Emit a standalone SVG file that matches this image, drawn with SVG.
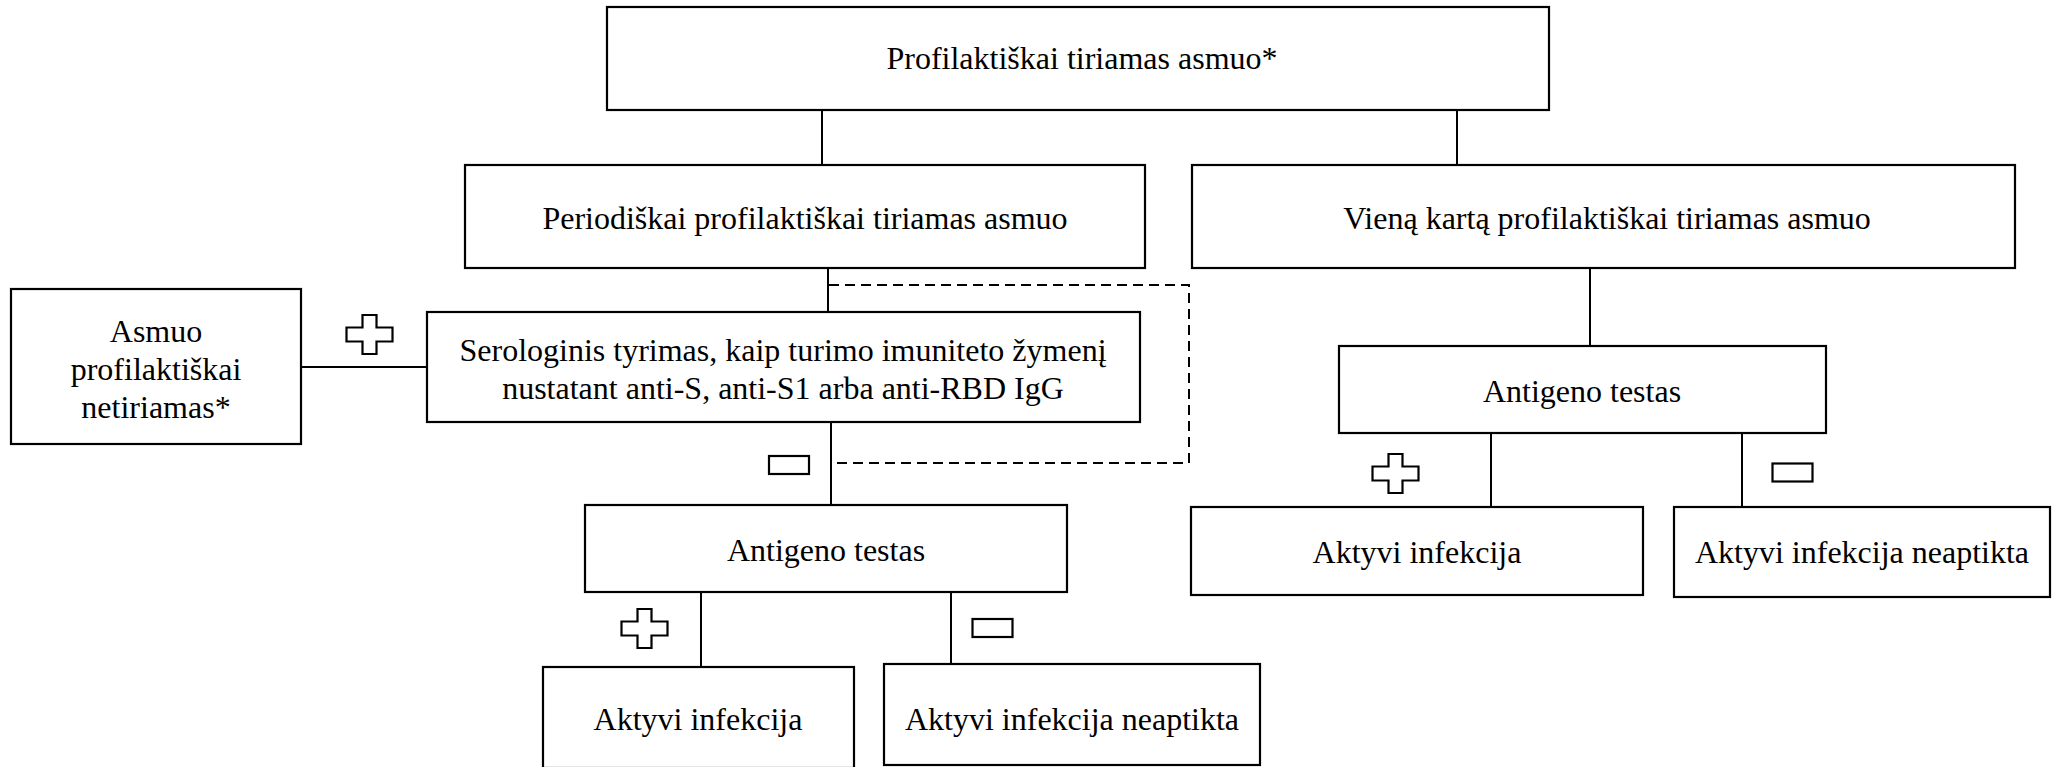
<svg xmlns="http://www.w3.org/2000/svg" width="2055" height="767" viewBox="0 0 2055 767">
<style>
.box{fill:#fff;stroke:#000;stroke-width:2.2}
.ln{stroke:#000;stroke-width:2;fill:none}
.dash{stroke:#000;stroke-width:2;fill:none;stroke-dasharray:10,6}
.sign{fill:#fff;stroke:#000;stroke-width:2.2}
text{font-family:"Liberation Serif","Times New Roman",serif;font-size:32px;fill:#000;text-anchor:middle}
</style>
<defs>
<path id="plus" d="M-7,-19.5 H7 V-7 H23 V7 H7 V19.5 H-7 V7 H-23 V-7 H-7 Z"/>
<rect id="minus" x="-20" y="-9" width="40" height="18"/>
</defs>
<rect width="2055" height="767" fill="#fff"/>
<g id="connectors">
<line class="ln" x1="822" y1="110" x2="822" y2="165"/>
<line class="ln" x1="1457" y1="110" x2="1457" y2="165"/>
<line class="ln" x1="828" y1="268" x2="828" y2="312"/>
<polyline class="dash" points="829,285 1189,285 1189,463 832,463"/>
<line class="ln" x1="831" y1="422" x2="831" y2="505"/>
<line class="ln" x1="301" y1="367" x2="427" y2="367"/>
<line class="ln" x1="701" y1="592" x2="701" y2="667"/>
<line class="ln" x1="951" y1="592" x2="951" y2="664"/>
<line class="ln" x1="1590" y1="268" x2="1590" y2="346"/>
<line class="ln" x1="1491" y1="433" x2="1491" y2="507"/>
<line class="ln" x1="1742" y1="433" x2="1742" y2="507"/>
<use href="#plus" class="sign" x="369.5" y="334.5"/>
<use href="#minus" class="sign" x="789" y="465"/>
<use href="#plus" class="sign" x="644.5" y="628.5"/>
<use href="#minus" class="sign" x="992.5" y="628"/>
<use href="#plus" class="sign" x="1395.5" y="473.5"/>
<use href="#minus" class="sign" x="1792.5" y="472.5"/>
</g>
<g id="top">
<rect class="box" x="607" y="7" width="942" height="103"/>
<text x="1082" y="69">Profilaktiškai tiriamas asmuo*</text>
</g>
<g id="periodic">
<rect class="box" x="465" y="165" width="680" height="103"/>
<text x="805" y="229">Periodiškai profilaktiškai tiriamas asmuo</text>
</g>
<g id="once">
<rect class="box" x="1192" y="165" width="823" height="103"/>
<text x="1607" y="229">Vieną kartą profilaktiškai tiriamas asmuo</text>
</g>
<g id="not-tested">
<rect class="box" x="11" y="289" width="290" height="155"/>
<text x="156" y="342">Asmuo</text>
<text x="156" y="380">profilaktiškai</text>
<text x="156" y="418">netiriamas*</text>
</g>
<g id="serology">
<rect class="box" x="427" y="312" width="713" height="110"/>
<text x="783" y="361">Serologinis tyrimas, kaip turimo imuniteto žymenį</text>
<text x="783" y="399">nustatant anti-S, anti-S1 arba anti-RBD IgG</text>
</g>
<g id="antigen-left">
<rect class="box" x="585" y="505" width="482" height="87"/>
<text x="826" y="561">Antigeno testas</text>
</g>
<g id="active-left">
<rect class="box" x="543" y="667" width="311" height="101"/>
<text x="698" y="730">Aktyvi infekcija</text>
</g>
<g id="notfound-left">
<rect class="box" x="884" y="664" width="376" height="101"/>
<text x="1072" y="730">Aktyvi infekcija neaptikta</text>
</g>
<g id="antigen-right">
<rect class="box" x="1339" y="346" width="487" height="87"/>
<text x="1582" y="402">Antigeno testas</text>
</g>
<g id="active-right">
<rect class="box" x="1191" y="507" width="452" height="88"/>
<text x="1417" y="563">Aktyvi infekcija</text>
</g>
<g id="notfound-right">
<rect class="box" x="1674" y="507" width="376" height="90"/>
<text x="1862" y="563">Aktyvi infekcija neaptikta</text>
</g>
</svg>
